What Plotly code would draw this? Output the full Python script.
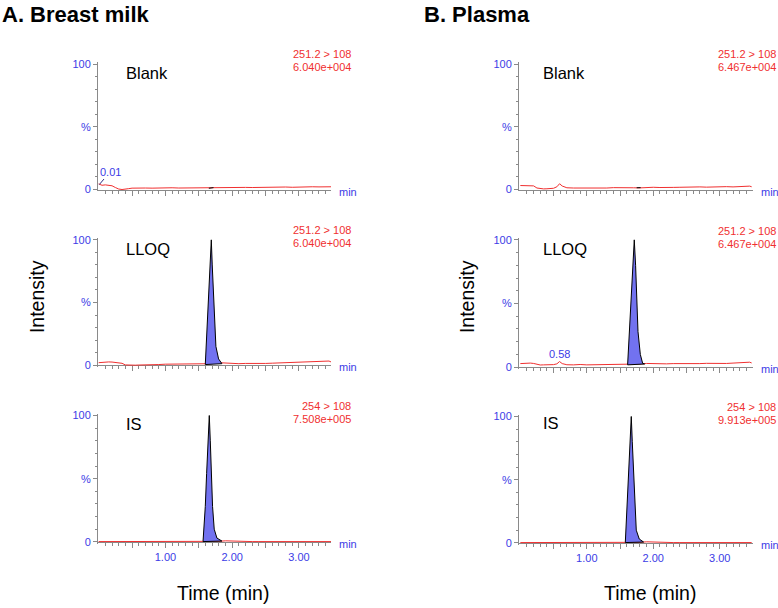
import plotly.graph_objects as go

W, H = 778, 608

# ---------------- data ----------------
T_GRID = [0.00, 0.05, 0.10, 0.15, 0.20, 0.25, 0.30, 0.35, 0.40, 0.45, 0.50, 0.55, 0.59, 0.63,
          0.70, 0.80, 0.90, 1.00, 1.10, 1.20, 1.30, 1.40, 1.50, 1.60, 1.70, 1.80, 1.90, 2.00,
          2.10, 2.20, 2.30, 2.40, 2.50, 2.60, 2.70, 2.80, 2.90, 3.00, 3.10, 3.20, 3.30, 3.40,
          3.45, 3.48]

BM_BLANK_Y = [4.5, 3.4, 3.7, 3.3, 3.0, 1.6, 0.4, 0.0, 0.1, 0.7, 1.1, 1.0, 1.1, 1.0,
              1.2, 1.1, 1.3, 1.2, 1.4, 1.2, 1.3, 1.5, 1.4, 1.5, 1.4, 1.6, 1.5, 1.8,
              1.6, 1.7, 1.6, 1.8, 1.9, 1.7, 1.9, 2.0, 1.8, 2.1, 2.0, 2.2, 2.1, 2.4,
              2.0, 2.2]
BM_LLOQ_Y = [2.0, 2.3, 2.4, 2.6, 2.5, 2.2, 2.3, 1.5, 0.2, 0.0, 0.1, 0.0, 0.1, 0.1,
             0.2, 0.3, 0.5, 0.8, 0.9, 0.8, 1.0, 1.1, 1.0, 1.0, 1.2, 2.0, 1.6, 1.3,
             1.2, 1.4, 1.3, 1.5, 1.4, 1.6, 1.8, 1.7, 2.0, 2.1, 2.3, 2.5, 2.6, 2.7,
             3.3, 2.6]
BM_IS_Y = [0.2, 0.2, 0.2, 0.2, 0.2, 0.2, 0.2, 0.2, 0.2, 0.2, 0.2, 0.2, 0.2, 0.2,
           0.2, 0.2, 0.2, 0.2, 0.2, 0.2, 0.2, 0.2, 0.2, 0.2, 0.2, 0.4, 0.8, 0.6,
           0.2, 0.2, 0.2, 0.2, 0.2, 0.2, 0.2, 0.2, 0.2, 0.2, 0.2, 0.2, 0.2, 0.2,
           0.2, 0.2]
PL_BLANK_Y = [3.2, 3.0, 3.1, 3.2, 2.9, 1.2, 0.6, 0.5, 0.6, 0.8, 1.0, 2.2, 4.6, 2.8,
              1.4, 1.2, 1.1, 1.2, 1.0, 1.1, 1.2, 1.5, 1.6, 1.5, 1.4, 1.3, 1.6, 1.8,
              1.6, 1.9, 1.7, 1.8, 2.0, 1.8, 2.1, 1.9, 2.2, 2.0, 2.3, 2.1, 2.4, 2.5,
              2.7, 2.2]
PL_LLOQ_Y = [2.8, 3.1, 3.0, 3.2, 2.9, 2.0, 1.7, 1.8, 1.7, 1.8, 2.0, 2.6, 4.4, 2.8,
             1.9, 1.8, 2.1, 1.8, 1.9, 1.8, 1.9, 1.8, 2.0, 1.9, 2.0, 2.5, 2.9, 2.7,
             2.9, 2.6, 2.8, 2.7, 2.9, 2.6, 2.8, 3.0, 2.8, 3.1, 2.9, 3.2, 3.3, 3.5,
             3.9, 3.3]
PL_IS_Y = [0.2, 0.2, 0.2, 0.2, 0.2, 0.2, 0.2, 0.2, 0.2, 0.2, 0.2, 0.2, 0.2, 0.2,
           0.2, 0.2, 0.2, 0.2, 0.2, 0.2, 0.2, 0.2, 0.2, 0.2, 0.2, 0.4, 0.8, 0.6,
           0.2, 0.2, 0.2, 0.2, 0.2, 0.2, 0.2, 0.2, 0.2, 0.2, 0.2, 0.2, 0.2, 0.2,
           0.2, 0.2]

BM_LLOQ_PEAK_T = [1.597, 1.622, 1.647, 1.667, 1.687, 1.701, 1.721, 1.741, 1.756, 1.796, 1.846]
BM_LLOQ_PEAK_Y = [0.5, 28, 54, 80, 100, 80, 54, 28, 15, 5, 1.2]
BM_IS_PEAK_T = [1.563, 1.597, 1.617, 1.637, 1.657, 1.672, 1.687, 1.706, 1.731, 1.771, 1.846]
BM_IS_PEAK_Y = [0.2, 28, 54, 80, 100, 80, 54, 28, 10, 3, 0.6]
PL_LLOQ_PEAK_T = [1.614, 1.639, 1.664, 1.689, 1.714, 1.734, 1.749, 1.770, 1.805, 1.840, 1.870]
PL_LLOQ_PEAK_Y = [1.8, 28, 54, 80, 100, 80, 54, 28, 10, 3, 2.5]
PL_IS_PEAK_T = [1.579, 1.604, 1.624, 1.644, 1.669, 1.684, 1.704, 1.719, 1.744, 1.789, 1.854]
PL_IS_PEAK_Y = [0.2, 28, 54, 80, 100, 80, 54, 28, 10, 3, 0.6]

BM_BLANK_INT_T = [1.65, 1.72]
BM_BLANK_INT_Y = [1.0, 1.5]
PL_BLANK_INT_T = [1.75, 1.81]
PL_BLANK_INT_Y = [1.4, 1.5]

SAMPLES = ["Blank", "LLOQ", "IS"]
TRANSITIONS_BM = ["251.2 > 108", "251.2 > 108", "254 > 108"]
SCALES_BM = ["6.040e+004", "6.040e+004", "7.508e+005"]
TRANSITIONS_PL = ["251.2 > 108", "251.2 > 108", "254 > 108"]
SCALES_PL = ["6.467e+004", "6.467e+004", "9.913e+005"]
X_TICKS = [0.5, 1.0, 1.5, 2.0, 2.5, 3.0]
X_TICK_LABELS = ["", "1.00", "", "2.00", "", "3.00"]
X_MINOR = [0.1, 0.2, 0.3, 0.4, 0.6, 0.7, 0.8, 0.9, 1.1, 1.2, 1.3, 1.4, 1.6, 1.7, 1.8, 1.9,
           2.1, 2.2, 2.3, 2.4, 2.6, 2.7, 2.8, 2.9, 3.1, 3.2, 3.3, 3.4]
Y_TICKS = [0, 50, 100]
Y_TICK_LABELS = ["0", "%", "100"]
Y_MINOR = [10, 20, 30, 40, 60, 70, 80, 90]

# ---------------- style ----------------
FONT = "Arial, Liberation Sans, sans-serif"
RED = "#f03030"
BLUE_TXT = "#3c3ce6"
FILL = "#7272f0"
AXC = "#8a8a8a"
YLO, YHI = -1.5, 101.5

# panel geometry in pixels: (x_left, x_right, zero_px, hundred_px)
PANELS = [
    (98, 331, 188, 61),
    (98, 331, 366, 239),
    (98, 331, 545, 417),
    (519, 753, 188, 61),
    (519, 753, 368, 239),
    (519, 753, 546, 418),
]
XRANGES = [[-0.01, 3.48]] * 3 + [[-0.02, 3.50]] * 3

fig = go.Figure()

baselines = [BM_BLANK_Y, BM_LLOQ_Y, BM_IS_Y, PL_BLANK_Y, PL_LLOQ_Y, PL_IS_Y]
peaks = [None, (BM_LLOQ_PEAK_T, BM_LLOQ_PEAK_Y), (BM_IS_PEAK_T, BM_IS_PEAK_Y),
         None, (PL_LLOQ_PEAK_T, PL_LLOQ_PEAK_Y), (PL_IS_PEAK_T, PL_IS_PEAK_Y)]
ints = [(BM_BLANK_INT_T, BM_BLANK_INT_Y), None, None, (PL_BLANK_INT_T, PL_BLANK_INT_Y), None, None]

for i in range(6):
    xa = "x" if i == 0 else f"x{i+1}"
    ya = "y" if i == 0 else f"y{i+1}"
    fig.add_trace(go.Scatter(x=T_GRID, y=baselines[i], mode="lines",
                             line=dict(color=RED, width=1), xaxis=xa, yaxis=ya,
                             hoverinfo="skip"))
    if ints[i] is not None:
        fig.add_trace(go.Scatter(x=ints[i][0], y=ints[i][1], mode="lines",
                                 line=dict(color="black", width=1), xaxis=xa, yaxis=ya,
                                 hoverinfo="skip"))
    if peaks[i] is not None:
        pt, pyv = peaks[i]
        fig.add_trace(go.Scatter(x=list(pt) + [pt[0]], y=list(pyv) + [pyv[0]], mode="lines",
                                 fill="toself", fillcolor=FILL,
                                 line=dict(color="black", width=1), xaxis=xa, yaxis=ya,
                                 hoverinfo="skip"))

layout_axes = {}
for i, (xl, xr, z, h) in enumerate(PANELS):
    sc = (z - h) / 100.0
    bottom = z - YLO * sc
    top = h - (YHI - 100) * sc
    ydom = [1 - bottom / H, 1 - top / H]
    xdom = [xl / W, xr / W]
    xkey = "xaxis" if i == 0 else f"xaxis{i+1}"
    ykey = "yaxis" if i == 0 else f"yaxis{i+1}"
    xtag = "x" if i == 0 else f"x{i+1}"
    show_lbl = (i % 3 == 2)
    layout_axes[xkey] = dict(
        domain=xdom, range=XRANGES[i], anchor="free", position=1 - z / H,
        showline=True, linecolor=AXC, linewidth=1, showgrid=False, zeroline=False,
        ticks="outside", ticklen=5, tickcolor=AXC, tickwidth=1,
        tickvals=X_TICKS, ticktext=X_TICK_LABELS if show_lbl else [""] * len(X_TICKS),
        tickfont=dict(family=FONT, size=11, color=BLUE_TXT),
        minor=dict(tickvals=X_MINOR, ticklen=3, tickcolor=AXC, ticks="outside", showgrid=False),
        layer="below traces", fixedrange=True,
    )
    layout_axes[ykey] = dict(
        domain=ydom, range=[YLO, YHI], anchor=xtag,
        showline=True, linecolor=AXC, linewidth=1, showgrid=False, zeroline=False,
        ticks="outside", ticklen=4, tickcolor=AXC, tickwidth=1,
        tickvals=Y_TICKS, ticktext=Y_TICK_LABELS,
        tickfont=dict(family=FONT, size=11, color=BLUE_TXT),
        minor=dict(tickvals=Y_MINOR, ticklen=2, tickcolor=AXC, ticks="outside", showgrid=False),
        layer="below traces", fixedrange=True,
    )

fig.update_layout(**layout_axes)


def px(x):
    return x / W


def py(y):
    return 1 - y / H


ann = []
# titles
ann.append(dict(x=px(0), y=py(11), text="<b>A. Breast milk</b>", xanchor="left", yanchor="middle",
                font=dict(family=FONT, size=22, color="black")))
ann.append(dict(x=px(422), y=py(11), text="<b>B. Plasma</b>", xanchor="left", yanchor="middle",
                font=dict(family=FONT, size=22, color="black")))
# axis titles
for xc in (37, 467):
    ann.append(dict(x=px(xc), y=py(297), text="Intensity", textangle=-90, xanchor="center",
                    yanchor="middle", font=dict(family=FONT, size=19.5, color="black")))
for xc in (223, 650):
    ann.append(dict(x=px(xc), y=py(597), text="Time (min)", xanchor="center", yanchor="middle",
                    font=dict(family=FONT, size=19.5, color="black")))

# sample labels and transitions
sample_y = [[70, 248, 426], [70, 248, 425]]
sample_x = [124, 541]
trans_y = [[(51, 64), (229, 242), (407, 421)], [(51, 64), (230, 243), (408, 422)]]
trans_xr = [353, 778]
trans_txt = [TRANSITIONS_BM, TRANSITIONS_PL]
scale_txt = [SCALES_BM, SCALES_PL]
for side in range(2):
    for k in range(3):
        ann.append(dict(x=px(sample_x[side]), y=py(sample_y[side][k]), text=SAMPLES[k],
                        xanchor="left", yanchor="middle",
                        font=dict(family=FONT, size=16.5, color="black")))
        y1, y2 = trans_y[side][k]
        ann.append(dict(x=px(trans_xr[side]), y=py(y1), text=trans_txt[side][k],
                        xanchor="right", yanchor="middle",
                        font=dict(family=FONT, size=11, color=RED)))
        ann.append(dict(x=px(trans_xr[side]), y=py(y2), text=scale_txt[side][k],
                        xanchor="right", yanchor="middle",
                        font=dict(family=FONT, size=11, color=RED)))

# "min" labels
for i, (xl, xr, z, h) in enumerate(PANELS):
    ann.append(dict(x=px(xr + 6), y=py(z + 2), text="min", xanchor="left", yanchor="middle",
                    font=dict(family=FONT, size=11, color=BLUE_TXT)))

for a in ann:
    a.update(xref="paper", yref="paper", showarrow=False)

# peak-apex labels on baseline
ann.append(dict(x=0.01, y=4.0, xref="x", yref="y", text="0.01", showarrow=True, arrowhead=0,
                arrowwidth=1, arrowcolor="#303080", ax=11, ay=-13, standoff=0,
                font=dict(family=FONT, size=11, color=BLUE_TXT)))
ann.append(dict(x=0.59, y=10.5, xref="x5", yref="y5", text="0.58", showarrow=False,
                xanchor="center", yanchor="middle",
                font=dict(family=FONT, size=11, color=BLUE_TXT)))

fig.update_layout(
    width=W, height=H, margin=dict(l=0, r=0, t=0, b=0),
    plot_bgcolor="white", paper_bgcolor="white", showlegend=False,
    font=dict(family=FONT), annotations=ann,
)

fig.write_html("out.html", config={"displayModeBar": False},
               post_script="document.body.style.margin='0px';document.body.style.overflow='hidden';")
